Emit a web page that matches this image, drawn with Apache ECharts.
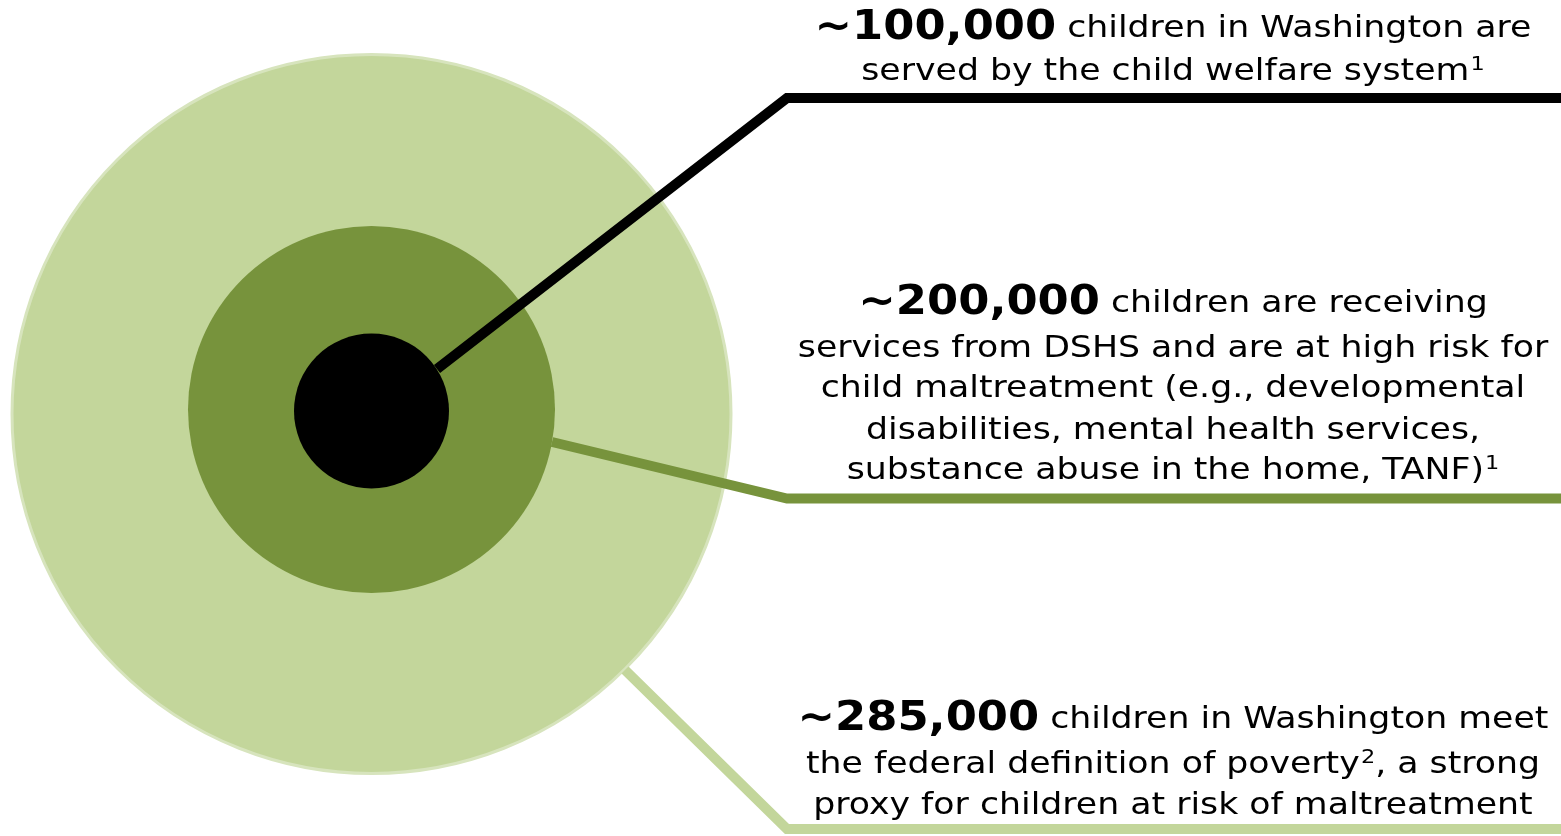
<!DOCTYPE html>
<html>
<head>
<meta charset="utf-8">
<script src="https://cdn.jsdelivr.net/npm/echarts@6/dist/echarts.min.js"></script>
<style>
html,body{margin:0;padding:0;background:#fff;}
#chart{width:1561px;height:836px;}
</style>
</head>
<body>
<div id="chart"></div>
<script>
// ---- data ----
const groups = ['Child welfare system', 'DSHS high-risk services', 'Federal poverty'];
const counts = [100000, 200000, 285000];
// circle centre x, centre y, radius (in chart units, drawn via axes)
const circleX = [371.5, 371.5, 371.5];
const circleY = [411, 409.5, 414];
const circleR = [77.5, 183.5, 359.5];
const colors = ['#000000', '#77933C', '#C3D69B'];
// leader lines (chart units)
const leaderBlack = [[437, 369], [787, 98], [1561, 98]];
const leaderDark  = [[552, 442], [787, 498.5], [1561, 498.5]];
const leaderLight = [[625, 670], [787, 829], [1561, 829]];
// annotation texts
const textLines = [
  [['b', '~' + counts[0].toLocaleString('en-US')], ['n', ' children in Washington are']],
  [['n', 'served by the child welfare system'], ['s', '1']],
  [['b', '~' + counts[1].toLocaleString('en-US')], ['n', ' children are receiving']],
  [['n', 'services from DSHS and are at high risk for']],
  [['n', 'child maltreatment (e.g., developmental']],
  [['n', 'disabilities, mental health services,']],
  [['n', 'substance abuse in the home, TANF)'], ['s', '1']],
  [['b', '~' + counts[2].toLocaleString('en-US')], ['n', ' children in Washington meet']],
  [['n', 'the federal definition of poverty'], ['s', '2'], ['n', ', a strong']],
  [['n', 'proxy for children at risk of maltreatment']]
];
const textLineY = [29, 72, 304, 349, 389, 431, 471, 720, 765, 806];
const textCenterX = 1173;

// ---- chart ----
const chart = echarts.init(document.getElementById('chart'), null, {renderer: 'canvas'});
const FONT = "'DejaVu Sans', Verdana, sans-serif";

// draw circles largest first
const order = [2, 1, 0];
const circleData = order.map(i => [circleX[i], circleY[i], circleR[i], i]);

function toRich(parts) {
  return parts.map(p => '{' + p[0] + '|' + p[1] + '}').join('');
}

const graphics = textLines.map((parts, k) => ({
  type: 'text',
  x: textCenterX,
  y: textLineY[k],
  scaleX: 1.12,
  z: 100,
  style: {
    text: toRich(parts),
    x: 0,
    y: 0,
    align: 'center',
    verticalAlign: 'middle',
    rich: {
      b: {fontFamily: FONT, fontWeight: 'bold', fontSize: 40, fill: '#000', lineHeight: 44},
      n: {fontFamily: FONT, fontSize: 31, fill: '#000', lineHeight: 44},
      s: {fontFamily: FONT, fontSize: 20, fill: '#000', lineHeight: 44, padding: [0, 0, 14, 1]}
    }
  }
}));

function leader(data, color, width) {
  return {
    type: 'line',
    data: data,
    symbol: 'none',
    silent: true,
    animation: false,
    z: 5,
    lineStyle: {color: color, width: width, cap: 'butt', join: 'miter'}
  };
}

chart.setOption({
  backgroundColor: '#ffffff',
  animation: false,
  grid: {left: 0, right: 0, top: 0, bottom: 0, containLabel: false},
  xAxis: {type: 'value', min: 0, max: 1561, show: false},
  yAxis: {type: 'value', min: 0, max: 836, inverse: true, show: false},
  series: [
    {
      type: 'custom',
      name: 'circles',
      silent: true,
      z: 1,
      data: circleData,
      renderItem: function (params, api) {
        const c = api.coord([api.value(0), api.value(1)]);
        const r = api.size([api.value(2), 0])[0];
        const idx = api.value(3);
        return {
          type: 'circle',
          shape: {cx: c[0], cy: c[1], r: r},
          style: {
            fill: colors[idx],
            stroke: idx === 2 ? '#D7E4BD' : null,
            lineWidth: idx === 2 ? 3 : 0
          }
        };
      }
    },
    leader(leaderBlack, colors[0], 10),
    leader(leaderDark, colors[1], 10),
    leader(leaderLight, colors[2], 10)
  ],
  graphic: graphics
});
</script>
</body>
</html>
